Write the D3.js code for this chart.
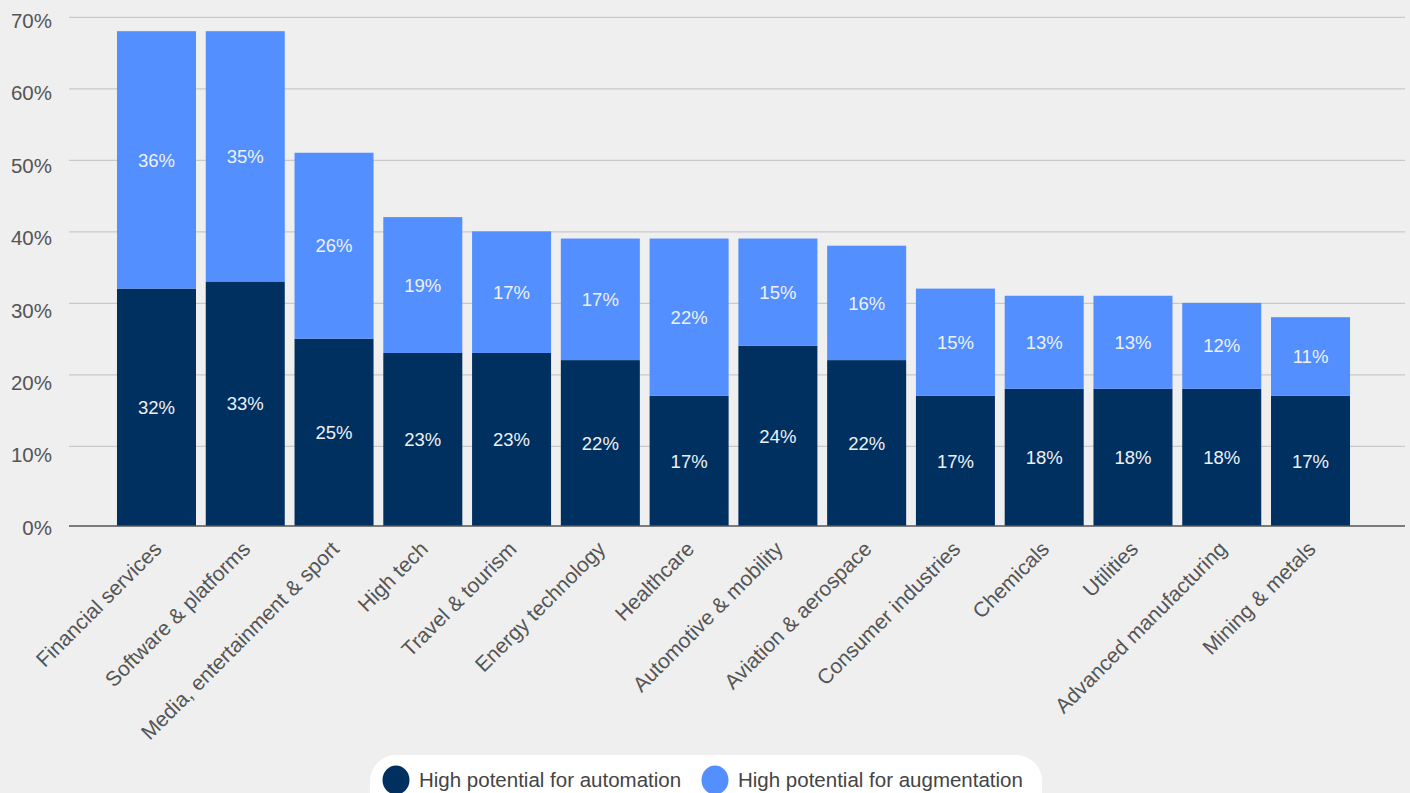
<!DOCTYPE html>
<html>
<head>
<meta charset="utf-8">
<script src="https://cdn.jsdelivr.net/npm/d3@7"></script>
<style>
  html, body { margin: 0; padding: 0; background: #efefef; }
  svg { display: block; font-family: "Liberation Sans", Arial, Helvetica, sans-serif; }
</style>
</head>
<body>
<svg id="chart" width="1410" height="793"></svg>
<script>
const categories = [
  "Financial services", "Software & platforms", "Media, entertainment & sport",
  "High tech", "Travel & tourism", "Energy technology", "Healthcare",
  "Automotive & mobility", "Aviation & aerospace", "Consumer industries",
  "Chemicals", "Utilities", "Advanced manufacturing", "Mining & metals"
];
const automation   = [32, 33, 25, 23, 23, 22, 17, 24, 22, 17, 18, 18, 18, 17];
const augmentation = [36, 35, 26, 19, 17, 17, 22, 15, 16, 15, 13, 13, 12, 11];
const seriesNames = ["High potential for automation", "High potential for augmentation"];
const yTicks = [0, 10, 20, 30, 40, 50, 60, 70];

const colors = ["#00305f", "#538ffe"];
const svg = d3.select("#chart");

const plotLeft = 69, plotRight = 1405, axisY = 526;
const y = d3.scaleLinear().domain([0, 70]).range([517.4, 16.9]);
const yLab = d3.scaleLinear().domain([0, 70]).range([527, 20]);
const x = d3.scaleBand().domain(categories).range([112.1, 1354.9])
  .paddingInner(0.11).paddingOuter(0.055);

// gridlines
const grid = svg.append("g").attr("transform", `translate(${plotLeft},0)`)
  .call(d3.axisLeft(y).tickValues(yTicks.filter(t => t > 0)).tickSize(-(plotRight - plotLeft)).tickFormat(""));
grid.select(".domain").remove();
grid.selectAll("line").attr("stroke", "#c9c9c9").attr("stroke-width", 1.2);

// y tick labels
const yAxis = svg.append("g").attr("transform", "translate(52,0)")
  .call(d3.axisLeft(yLab).tickValues(yTicks).tickSize(0).tickPadding(0).tickFormat(d => d + "%"));
yAxis.select(".domain").remove();
yAxis.selectAll("text").attr("fill", "#555").attr("font-size", 20.5)
  .attr("dy", "0.36em").attr("text-anchor", "end");

// data
const rows = categories.map((c, i) => ({ c, a: automation[i], g: augmentation[i] }));

const barG = svg.append("g");
barG.selectAll("rect.auto").data(rows).join("rect").attr("class", "auto")
  .attr("x", d => x(d.c)).attr("width", x.bandwidth())
  .attr("y", d => y(d.a)).attr("height", d => axisY - y(d.a))
  .attr("fill", colors[0]);
barG.selectAll("rect.aug").data(rows).join("rect").attr("class", "aug")
  .attr("x", d => x(d.c)).attr("width", x.bandwidth())
  .attr("y", d => y(d.a + d.g)).attr("height", d => y(d.a) - y(d.a + d.g))
  .attr("fill", colors[1]);

// value labels
const labG = svg.append("g").attr("font-size", 18.5).attr("fill", "#eef2f8").attr("text-anchor", "middle");
labG.selectAll("text.la").data(rows).join("text").attr("class", "la")
  .attr("x", d => x(d.c) + x.bandwidth() / 2)
  .attr("y", d => (y(d.a) + axisY) / 2).attr("dy", "0.36em")
  .text(d => d.a + "%");
labG.selectAll("text.lg").data(rows).join("text").attr("class", "lg")
  .attr("x", d => x(d.c) + x.bandwidth() / 2)
  .attr("y", d => (y(d.a) + y(d.a + d.g)) / 2).attr("dy", "0.36em")
  .text(d => d.g + "%");

// x axis line
svg.append("line").attr("x1", plotLeft).attr("x2", plotRight)
  .attr("y1", axisY).attr("y2", axisY).attr("stroke", "#555").attr("stroke-width", 1.5);

// x axis labels
const xAxis = svg.append("g").attr("transform", `translate(0,${axisY})`)
  .call(d3.axisBottom(x).tickSize(0).tickPadding(0));
xAxis.select(".domain").remove();
xAxis.selectAll("text").attr("fill", "#555").attr("font-size", 21)
  .attr("text-anchor", "end").attr("x", 0).attr("y", 0).attr("dy", "0.36em")
  .attr("transform", "translate(1,19) rotate(-45)");

// legend
const leg = svg.append("g");
leg.append("rect").attr("x", 370).attr("y", 755).attr("width", 672).attr("height", 70)
  .attr("rx", 26).attr("fill", "#ffffff");
const legX = [396, 715];
seriesNames.forEach((n, i) => {
  leg.append("ellipse").attr("cx", legX[i]).attr("cy", 780).attr("rx", 13.5).attr("ry", 14.5).attr("fill", colors[i]);
  leg.append("text").attr("x", legX[i] + 23).attr("y", 780).attr("dy", "0.36em")
    .attr("font-size", 20.5).attr("fill", "#444").text(n);
});
</script>
</body>
</html>
